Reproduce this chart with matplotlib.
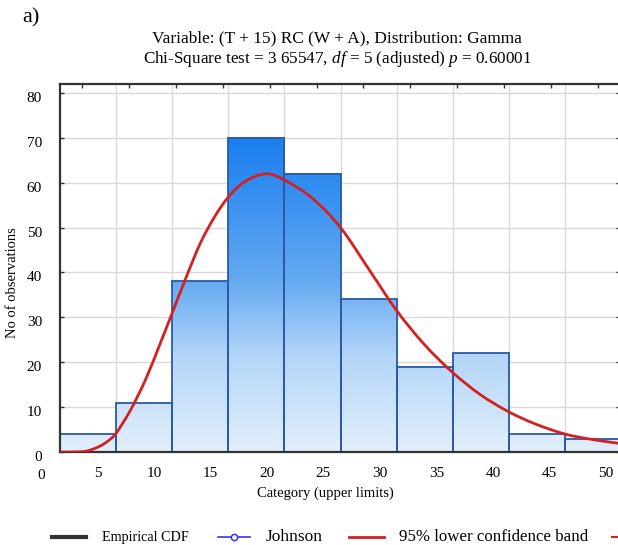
import numpy as np
import matplotlib
matplotlib.use("Agg")
import matplotlib.pyplot as plt
from matplotlib.colors import LinearSegmentedColormap
from matplotlib.lines import Line2D
from matplotlib.path import Path
from matplotlib.patches import PathPatch
import matplotlib.transforms as mtransforms

# ---------------- data ----------------
counts = [4, 11, 38, 70, 62, 34, 19, 22, 4, 3]          # observations per category
x_labels = ["5", "10", "15", "20", "25", "30", "35", "40", "45", "50"]
y_ticks = [0, 10, 20, 30, 40, 50, 60, 70, 80]
# fitted gamma curve (x in bin units, y in observations)
curve_x = [0.00, 0.36, 0.53, 0.71, 0.86, 1.00, 1.25, 1.52, 1.78, 2.00, 2.25, 2.50,
           2.75, 3.00, 3.30, 3.67, 4.00, 4.50, 5.00, 5.50, 6.00, 6.49, 6.99, 7.49,
           7.99, 8.48, 9.00, 9.48, 9.98]
curve_y = [0.0, 0.05, 0.4, 1.3, 2.5, 4.2, 9.2, 16.0, 24.0, 31.0, 39.0, 46.5,
           52.3, 56.8, 60.3, 62.0, 60.6, 56.5, 50.0, 40.8, 31.5, 24.0, 17.8, 12.8,
           9.0, 6.2, 4.0, 2.8, 1.9]

plt.rcParams['font.family'] = ['Liberation Serif', 'DejaVu Serif']
plt.rcParams['mathtext.fontset'] = 'custom'
plt.rcParams['mathtext.rm'] = 'Liberation Serif'
plt.rcParams['mathtext.it'] = 'Liberation Serif:italic'

W, H = 618, 545
fig = plt.figure(figsize=(W / 100, H / 100), dpi=100)
ax_l, ax_r, ax_t, ax_b = 60, 620, 84, 452
ax = fig.add_axes([ax_l / W, 1 - ax_b / H, (ax_r - ax_l) / W, (ax_b - ax_t) / H])

grid_c = '#d9d9d9'
for v in y_ticks[1:]:
    ax.axhline(v, color=grid_c, lw=1, zorder=0)
for i in range(1, len(counts)):
    ax.axvline(i, color=grid_c, lw=1, zorder=0)

cmap = LinearSegmentedColormap.from_list(
    'bars', [(0, '#e2effc'), (0.3, '#b4d6f8'), (0.55, '#63a9f1'), (1, '#1a7ff0')])

for i, c in enumerate(counts):
    grad = np.linspace(0, c, 200).reshape(-1, 1)
    ax.imshow(grad, extent=(i, i + 1, 0, c), origin='lower', cmap=cmap,
              vmin=0, vmax=70, aspect='auto', zorder=1, interpolation='bilinear')
    ax.bar(i, c, width=1, align='edge', facecolor='none',
           edgecolor='#2b5aa6', lw=1.3, zorder=2)

# smooth curve through the read points (Catmull-Rom as cubic Bezier segments)
px = np.array(curve_x)
py = np.array(curve_y)
verts = [(px[0], py[0])]
codes = [Path.MOVETO]
for k in range(len(px) - 1):
    p0 = np.array([px[max(k - 1, 0)], py[max(k - 1, 0)]])
    p1 = np.array([px[k], py[k]])
    p2 = np.array([px[k + 1], py[k + 1]])
    p3 = np.array([px[min(k + 2, len(px) - 1)], py[min(k + 2, len(px) - 1)]])
    c1 = p1 + (p2 - p0) / 6
    c2 = p2 - (p3 - p1) / 6
    verts += [tuple(c1), tuple(c2), tuple(p2)]
    codes += [Path.CURVE4] * 3
ax.add_patch(PathPatch(Path(verts, codes), facecolor='none', edgecolor='#d42020',
                       lw=2, zorder=3, capstyle='round', joinstyle='round'))

ax.set_xlim(0, 9.98)
ax.set_ylim(0, 82)
ax.set_aspect('auto')

# y axis
ax.set_yticks(y_ticks)
ax.set_yticklabels([str(v) for v in y_ticks], fontsize=11)
ax.tick_params(axis='y', direction='in', length=3, width=1, pad=13,
               left=True, right=True, color='#333333')
off = mtransforms.ScaledTranslation(0, -4 / 100, fig.dpi_scale_trans)
for lab in ax.get_yticklabels():
    lab.set_transform(lab.get_transform() + off)

# x axis labels (offset from bin edges as in the reference)
pos = [k * 1.007 - 0.34 for k in range(1, len(x_labels) + 1)]
ax.set_xticks(pos)
ax.set_xticklabels(x_labels, fontsize=11)
ax.tick_params(axis='x', length=0, pad=11)
ax.text(-0.34, -0.045, "0", transform=mtransforms.blended_transform_factory(ax.transData, ax.transAxes),
        ha='center', va='top', fontsize=11, clip_on=False)

# top ticks
sec = ax.secondary_xaxis('top')
sec.set_xticks([0.392 + 0.836 * k for k in range(12)])
sec.set_xticklabels([])
sec.tick_params(direction='in', length=3, width=1, color='#333333')
sec.spines['top'].set_visible(False)

for s in ax.spines.values():
    s.set_color('#333333')
    s.set_linewidth(1.6)

fig.text(325 / W, 1 - 493 / H, "Category (upper limits)", ha='center', va='center', fontsize=10.5)
fig.text(13 / W, 1 - 283 / H, "No of observations", ha='center', va='center',
         rotation=90, fontsize=10.5)

fig.text(337 / W, 1 - 38 / H, "Variable: (T + 15) RC (W + A), Distribution: Gamma",
         ha='center', va='center', fontsize=12.4)
fig.text(338 / W, 1 - 59 / H,
         r"Chi-Square test = 3 65547, $\mathit{df}$ = 5 (adjusted) $\mathit{p}$ = 0.60001",
         ha='center', va='center', fontsize=12.3)
fig.text(22 / W, 1 - 18 / H, "a)", ha='left', va='center', fontsize=16)

# legend row
ly = 1 - 537 / H
def seg(x0, x1, **kw):
    fig.add_artist(Line2D([x0 / W, x1 / W], [ly, ly], transform=fig.transFigure, **kw))
seg(52, 86, color='#333333', lw=3)
fig.text(102 / W, ly, "Empirical CDF", ha='left', va='center', fontsize=10.2)
seg(218, 250, color='#3535f0', lw=1.2)
fig.add_artist(Line2D([234 / W], [ly], transform=fig.transFigure, marker='o',
                      markersize=4.5, mfc='white', mec='#3535f0', mew=1.1, lw=0))
fig.text(266 / W, ly, "Johnson", ha='left', va='center', fontsize=12.5)
seg(349, 384, color='#d42020', lw=2)
fig.text(399 / W, ly, "95% lower confidence band", ha='left', va='center', fontsize=12.2)
seg(612, 625, color='#d42020', lw=1.5)

fig.savefig("out.png", dpi=100)
